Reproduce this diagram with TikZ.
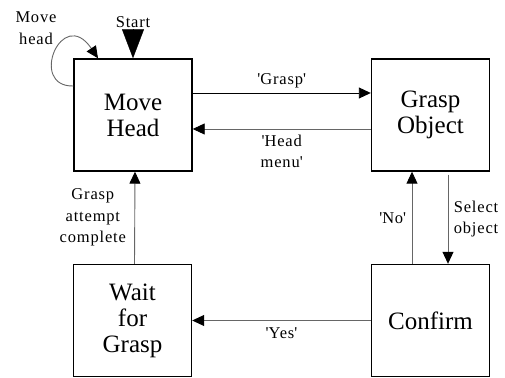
\documentclass[tikz,border=0pt]{standalone}
\usepackage{fontspec}
\setmainfont{Liberation Serif}
\newfontfamily\lblfont[LetterSpace=5]{Liberation Serif}
\usetikzlibrary{arrows.meta, positioning}
\newcommand{\q}[1]{\textquotesingle#1\textquotesingle}

\begin{document}
\begin{tikzpicture}[x=1pt, y=1pt,
  state/.style={draw, line width=1.4pt, minimum width=118pt, minimum height=112pt,
                align=center, font=\fontsize{25}{26}\selectfont},
  flow/.style={draw=black!60, line width=0.9pt, -{Triangle[length=12pt,width=11pt,black]}},
  lbl/.style={align=center, font=\lblfont\fontsize{16.5}{21.5}\selectfont}]
  \useasboundingbox (0,0) rectangle (505,377);

  % ---------- states ----------
  \node[state] (mh) at (133,262)   {Move\\Head};
  \node[state] (go) at (430.5,262) {Grasp\\Object};
  \node[state] (wg) at (132.5,56.5) {Wait\\for\\Grasp};
  \node[state] (cf) at (430.5,56.5) {Confirm};

  % ---------- entry and self loop ----------
  \coordinate (start) at (133,347);
  \node[lbl] (startlbl) at (133,355) {Start};
  \draw[-{Triangle[length=29pt,width=22pt]}] (start) -- (mh.north);
  \node[lbl] (movelbl) at (36,349) {Move\\head};
  \draw[flow] ([yshift=29pt]mh.west) .. controls (28,290) and (62,372) .. ([xshift=-35pt]mh.north);

  % ---------- top row ----------
  \draw[flow, draw=black] ([yshift=22pt]mh.east) -- node[lbl, above=1pt] {\q{Grasp}} ([yshift=22pt]go.west);
  \draw[flow] ([yshift=-14pt]go.west) -- node[lbl, below=2pt] {\q{Head\\menu}} ([yshift=-14pt]mh.west -| mh.east);

  % ---------- right column ----------
  \draw[flow] ([xshift=-18.5pt]cf.north) -- node[lbl, left=2pt] {\q{No}} ([xshift=-18.5pt]go.south);
  \draw[flow] ([xshift=17.5pt,yshift=-3pt]go.south) -- node[lbl, right=2pt] {Select\\object} ([xshift=17.5pt]cf.north);

  % ---------- bottom row and return ----------
  \draw[flow] (cf.west) -- node[lbl, below=3pt] {\q{Yes}} (wg.east);
  \draw[flow] ([xshift=2pt]wg.north) -- node[lbl, left=5pt] {Grasp\\attempt\\complete} ([xshift=2pt]mh.south);
\end{tikzpicture}
\end{document}
